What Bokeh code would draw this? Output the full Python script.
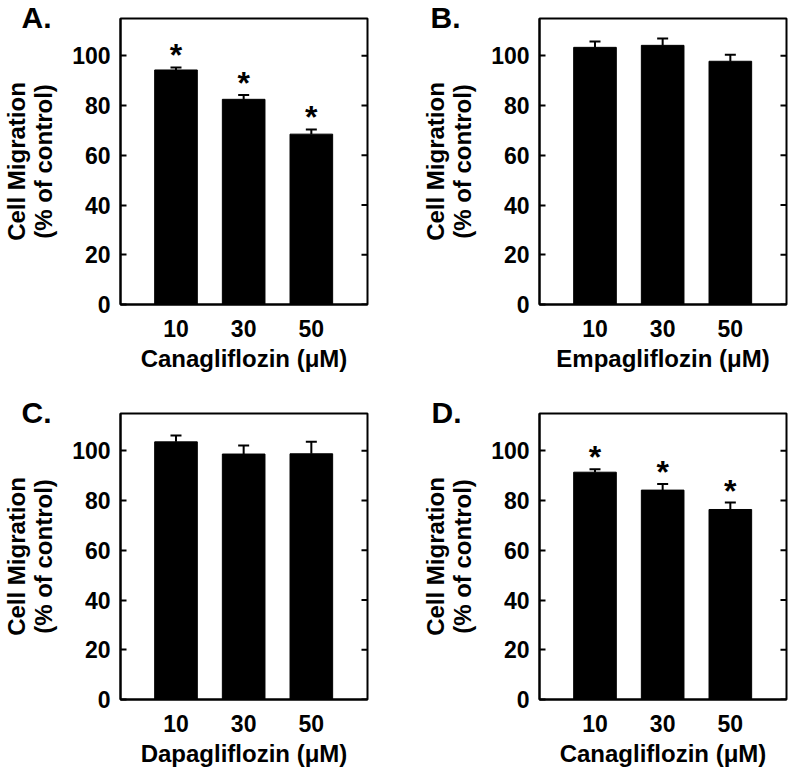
from bokeh.plotting import figure
from bokeh.layouts import column, row
from bokeh.models import ColumnDataSource, FixedTicker, Range1d, Whisker, TeeHead
from bokeh.core.properties import value
from bokeh.embed import file_html
from bokeh.resources import INLINE

# ---------------- data ----------------
doses = ["10", "30", "50"]
positions = [1, 2, 3]

labels_panel = ["A.", "B.", "C.", "D."]
drug_names = ["Canagliflozin", "Empagliflozin", "Dapagliflozin", "Canagliflozin"]

mean_A = [94.3, 82.5, 68.5]
sem_A = [1.0, 1.7, 1.9]
sig_A = [True, True, True]

mean_B = [103.4, 104.2, 97.8]
sem_B = [2.4, 2.8, 2.6]
sig_B = [False, False, False]

mean_C = [103.6, 98.7, 98.8]
sem_C = [2.6, 3.4, 4.8]
sig_C = [False, False, False]

mean_D = [91.4, 84.2, 76.4]
sem_D = [1.2, 2.5, 2.8]
sig_D = [True, True, True]

y_ticks = [0, 20, 40, 60, 80, 100]

FONT = "Liberation Sans"
X0, X1 = 0.18, 3.83
Y0, Y1 = 0, 115


def make_panel(letter, drug, means, sems, sig, width, height,
               bl, br, bt, bb, letter_dx):
    p = figure(width=width, height=height, output_backend="svg",
               toolbar_location=None, x_range=Range1d(X0, X1),
               y_range=Range1d(Y0, Y1), min_border_left=bl,
               min_border_right=br, min_border_top=bt, min_border_bottom=bb,
               x_axis_label=drug + " (\u03bcM)",
               y_axis_label="Cell Migration\n(% of control)",
               title=letter)
    p.grid.visible = False
    p.outline_line_color = "black"
    p.outline_line_width = 2
    p.outline_line_alpha = 1
    p.background_fill_color = "white"
    p.border_fill_color = "white"

    # panel letter as a left-aligned title pulled down beside the frame
    t = p.title
    t.align = "left"
    t.offset = -letter_dx
    t.standoff = -30
    t.text_font = FONT
    t.text_font_style = "bold"
    t.text_font_size = "30px"
    t.text_color = "black"

    tops = [m + s for m, s in zip(means, sems)]
    src = ColumnDataSource(dict(x=positions, top=means, upper=tops))
    p.vbar(x="x", top="top", bottom=0, width=0.63, source=src,
           fill_color="black", line_color="black")
    w = Whisker(base="x", upper="upper", lower="top", source=src,
                dimension="height", line_width=2, line_color="black",
                upper_head=TeeHead(size=11, line_width=2, line_color="black"),
                lower_head=None)
    p.add_layout(w)

    sx = [x for x, s in zip(positions, sig) if s]
    sy = [t_ for t_, s in zip(tops, sig) if s]
    if sx:
        p.text(x=sx, y=sy, text=["*"] * len(sx), text_align="center",
               text_baseline="alphabetic", y_offset=-12,
               text_font=value(FONT), text_font_style="bold",
               text_font_size="32px", text_color="black")

    # inward ticks on the right frame edge (half of each dash is clipped)
    p.scatter(x=[X1] * len(y_ticks), y=y_ticks, marker="dash", size=12,
              line_width=2, line_color="black")

    # axes
    xa = p.xaxis[0]
    xa.ticker = FixedTicker(ticks=positions)
    xa.major_label_overrides = {pos: d for pos, d in zip(positions, doses)}
    ya = p.yaxis[0]
    ya.ticker = FixedTicker(ticks=y_ticks)
    for ax in (xa, ya):
        ax.axis_line_width = 2
        ax.axis_line_color = "black"
        ax.major_tick_line_width = 2
        ax.minor_tick_line_color = None
        ax.major_label_text_font = FONT
        ax.major_label_text_font_style = "bold"
        ax.major_label_text_font_size = "23px"
        ax.major_label_text_color = "black"
        ax.axis_label_text_font = FONT
        ax.axis_label_text_font_style = "bold"
        ax.axis_label_text_color = "black"
    xa.axis_label_text_font_size = "24px"
    ya.axis_label_text_font_size = "24px"
    xa.major_tick_line_color = None
    xa.major_tick_in = 0
    xa.major_tick_out = 0
    xa.major_label_standoff = 15
    xa.axis_label_standoff = 5
    ya.major_tick_in = 6
    ya.major_tick_out = 0
    ya.major_label_standoff = 10
    ya.axis_label_standoff = 12
    ya.axis_label_text_line_height = 1.0
    return p


pA = make_panel(labels_panel[0], drug_names[0], mean_A, sem_A, sig_A,
                395, 390, 117, 28, 18, 86, 99)
pB = make_panel(labels_panel[1], drug_names[1], mean_B, sem_B, sig_B,
                395, 390, 144, 4, 18, 86, 109)
pC = make_panel(labels_panel[2], drug_names[2], mean_C, sem_C, sig_C,
                395, 380, 117, 28, 23, 71, 99)
pD = make_panel(labels_panel[3], drug_names[3], mean_D, sem_D, sig_D,
                395, 380, 144, 4, 23, 71, 108)

layout = column(row(pA, pB), row(pC, pD))
open("out.html", "w").write(file_html(layout, INLINE))
